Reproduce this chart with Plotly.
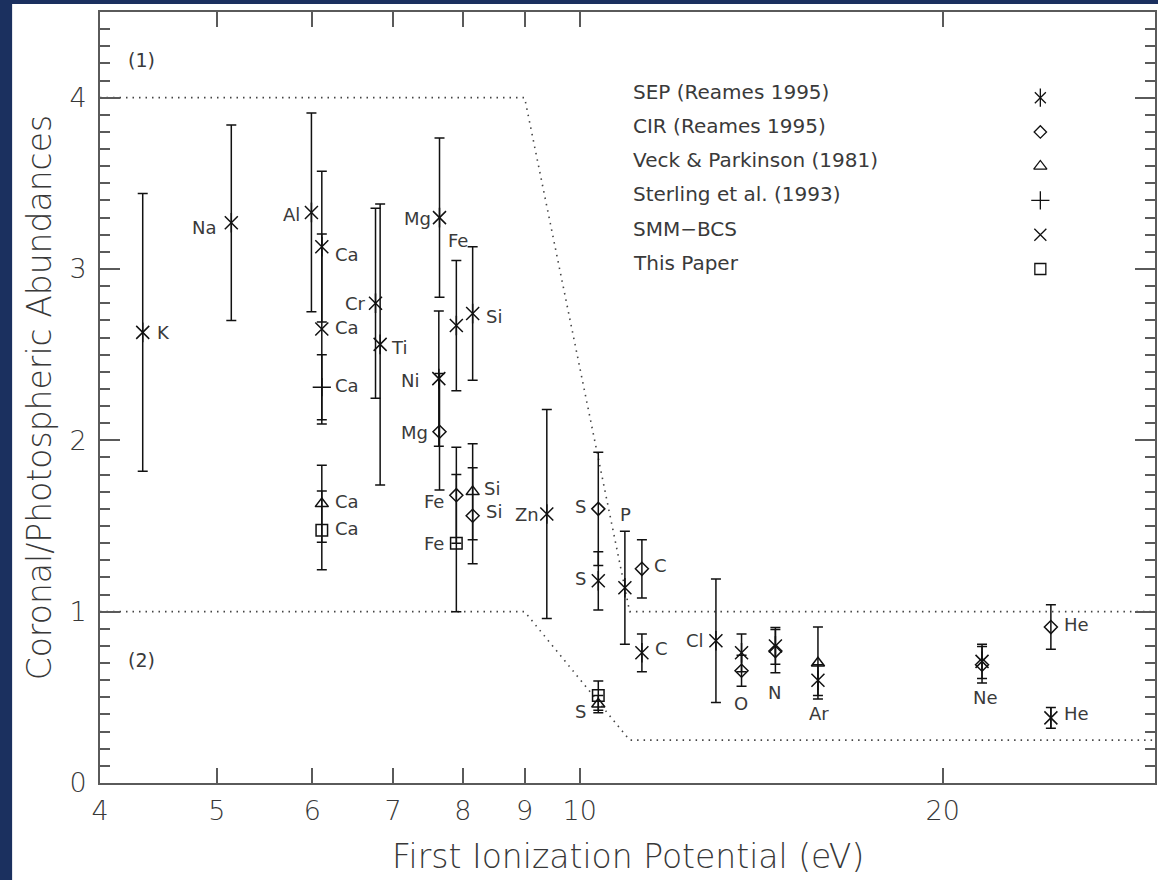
import numpy as np
import plotly.graph_objects as go

# ---------------- data ----------------
# SEP (Reames 1995) - asterisks
sep_el = ["K", "Na", "Al", "Ca", "Cr", "Ti", "Mg", "Ni", "Fe", "Si", "Zn", "S", "P", "C", "Cl", "O", "N", "Ar", "Ne", "He"]
sep_fip = [4.34, 5.14, 5.99, 6.11, 6.77, 6.83, 7.65, 7.64, 7.90, 8.15, 9.39, 10.36, 10.9, 11.26, 12.97, 13.62, 14.53, 15.76, 21.56, 24.59]
sep_val = [2.63, 3.27, 3.33, 3.13, 2.80, 2.56, 3.30, 2.36, 2.67, 2.74, 1.57, 1.18, 1.14, 0.76, 0.83, 0.76, 0.80, 0.60, 0.71, 0.38]
sep_err = [0.81, 0.57, 0.58, 0.44, 0.555, 0.82, 0.465, 0.395, 0.38, 0.39, 0.61, 0.17, 0.33, 0.11, 0.36, 0.11, 0.107, 0.09, 0.10, 0.06]

# CIR (Reames 1995) - diamonds
cir_el = ["Mg", "Fe", "Si", "S", "C", "O", "N", "Ne", "He"]
cir_fip = [7.65, 7.90, 8.15, 10.36, 11.26, 13.62, 14.53, 21.56, 24.59]
cir_val = [2.05, 1.68, 1.56, 1.60, 1.25, 0.655, 0.77, 0.69, 0.91]
cir_err = [0.34, 0.28, 0.28, 0.33, 0.17, 0.09, 0.126, 0.107, 0.13]

# Veck & Parkinson (1981) - triangles
vp_el = ["Ca", "Si", "S", "Ar"]
vp_fip = [6.11, 8.15, 10.36, 15.76]
vp_val = [1.63, 1.70, 0.46, 0.70]
vp_err = [0.225, 0.28, 0.05, 0.21]

# Sterling et al. (1993) - plus
st_el = ["Ca"]
st_fip = [6.11]
st_val = [2.31]
st_err = [0.19]

# SMM-BCS - cross
smm_el = ["Ca"]
smm_fip = [6.11]
smm_val = [2.65]
smm_err = [0.555]

# This Paper - squares
tp_el = ["Ca", "Fe", "S"]
tp_fip = [6.11, 7.90, 10.36]
tp_val = [1.475, 1.40, 0.51]
tp_err = [0.23, 0.40, 0.085]

# FIP boundary curves (1) and (2)
bnd_x = [4, 9, 11, 30]
bnd_upper = [4, 4, 1, 1]
bnd_lower = [1, 1, 0.25, 0.25]

legend_names = ["SEP (Reames 1995)", "CIR (Reames 1995)", "Veck & Parkinson (1981)",
                "Sterling et al. (1993)", "SMM\u2212BCS", "This Paper"]
legend_y = [4.0, 3.8, 3.6, 3.4, 3.2, 3.0]

x_ticks = [4, 5, 6, 7, 8, 9, 10, 20]
y_ticks = [0, 1, 2, 3, 4]

# ---------------- styling ----------------
NAVY = "#1b305f"
INK = "#111111"
TXT = "#3a3a3a"
TXT2 = "#383838"
AX = "#5a5a5a"
FONT = "DejaVu Sans"

fig = go.Figure()

# boundaries
for yb in (bnd_upper, bnd_lower):
    fig.add_trace(go.Scatter(x=bnd_x, y=yb, mode="lines",
                             line=dict(color="#444", width=1.6, dash="1.5px,5px"),
                             showlegend=False, hoverinfo="skip"))


def err(e):
    return dict(type="data", array=e, symmetric=True, color=INK, thickness=1.5, width=5)


def add_pts(x, y, e, symbol, size, lw=1.5):
    fig.add_trace(go.Scatter(x=x, y=y, mode="markers", error_y=err(e),
                             marker=dict(symbol=symbol, size=size, color=INK,
                                         line=dict(color=INK, width=lw)),
                             showlegend=False))


# asterisk = x + vertical bar
add_pts(sep_fip, sep_val, sep_err, "x-thin-open", 13)
fig.add_trace(go.Scatter(x=sep_fip, y=sep_val, mode="markers",
                         marker=dict(symbol="line-ns-open", size=14, color=INK,
                                     line=dict(color=INK, width=1.5)),
                         showlegend=False))
add_pts(cir_fip, cir_val, cir_err, "diamond-open", 10)
add_pts(vp_fip, vp_val, vp_err, "triangle-up-open", 11.5)
add_pts(st_fip, st_val, st_err, "cross-thin-open", 13)
add_pts(smm_fip, smm_val, smm_err, "x-thin-open", 13)
add_pts(tp_fip, tp_val, tp_err, "square-open", 11.5)

# legend symbols (drawn at right of legend texts)
leg_x = 24.1
leg_syms = [["x-thin-open", "line-ns-open"], ["diamond-open"], ["triangle-up-open"],
            ["cross-thin-open"], ["x-thin-open"], ["square-open"]]
leg_sizes = [[11, 13], [9.5], [11.5], [13], [12], [11]]
for yy, syms, sizes in zip(legend_y, leg_syms, leg_sizes):
    for s, sz in zip(syms, sizes):
        fig.add_trace(go.Scatter(x=[leg_x], y=[yy], mode="markers",
                                 marker=dict(symbol=s, size=sz, color=INK,
                                             line=dict(color=INK, width=1.3)),
                                 showlegend=False))

annotations = []


def lab(text, x, y, dx, dy, size=18):
    annotations.append(dict(x=np.log10(x), y=y, xref="x", yref="y", text=text,
                            showarrow=False, xanchor="center", yanchor="middle",
                            xshift=dx, yshift=-dy, font=dict(family=FONT, size=size, color=TXT)))


sep_off = {"K": (21, 0), "Na": (-27, 5), "Al": (-20, 2), "Ca": (25, 8), "Cr": (-20, 0), "Ti": (19, 3),
           "Mg": (-22, 1), "Ni": (-29, 2), "Fe": (2, -85), "Si": (21, 3), "Zn": (-20, 0), "S": (-18, -2),
           "P": (1, -73), "C": (20, -4), "Cl": (-21, 0), "Ar": (1, 33), "He": (26, -4)}
cir_off = {"Mg": (-25, 1), "Fe": (-22, 6), "Si": (21, -4), "S": (-18, -2), "C": (19, -3),
           "O": (-1, 33), "N": (-1, 41), "Ne": (3, 33), "He": (26, -3)}
vp_off = {"Ca": (25, -2), "Si": (19, -3), "S": (-18, 7)}
st_off = {"Ca": (25, -2)}
smm_off = {"Ca": (25, -1)}
tp_off = {"Ca": (25, -2), "Fe": (-22, 0)}

for els, xs, ys, offs in [(sep_el, sep_fip, sep_val, sep_off), (cir_el, cir_fip, cir_val, cir_off),
                          (vp_el, vp_fip, vp_val, vp_off), (st_el, st_fip, st_val, st_off),
                          (smm_el, smm_fip, smm_val, smm_off), (tp_el, tp_fip, tp_val, tp_off)]:
    for el, xv, yv in zip(els, xs, ys):
        if el in offs:
            dx, dy = offs[el]
            lab(el, xv, yv, dx, dy)

# legend texts
for name, yy in zip(legend_names, legend_y):
    annotations.append(dict(x=np.log10(11.03), y=yy, xref="x", yref="y", text=name, showarrow=False,
                            xanchor="left", yanchor="middle", yshift=6,
                            font=dict(family=FONT, size=20, color=TXT)))

# region markers
annotations.append(dict(x=np.log10(4.33), y=4.22, xref="x", yref="y", text="(1)", showarrow=False,
                        font=dict(family=FONT, size=19, color=TXT)))
annotations.append(dict(x=np.log10(4.33), y=0.72, xref="x", yref="y", text="(2)", showarrow=False,
                        font=dict(family=FONT, size=19, color=TXT)))

# axis titles
annotations.append(dict(x=0.5, y=-0.095, xref="paper", yref="paper", text="First Ionization Potential (eV)",
                        showarrow=False, xanchor="center", yanchor="middle",
                        font=dict(family=FONT, size=33, color=TXT2, weight=300)))
annotations.append(dict(x=-0.057, y=0.5, xref="paper", yref="paper", text="Coronal/Photospheric Abundances",
                        showarrow=False, xanchor="center", yanchor="middle", textangle=-90,
                        font=dict(family=FONT, size=33, color=TXT2, weight=300)))

fig.update_layout(
    width=1158, height=880, autosize=False,
    margin=dict(l=100, r=1, t=12, b=97, pad=0),
    paper_bgcolor=NAVY, plot_bgcolor="white",
    showlegend=False,
    annotations=annotations,
    shapes=[dict(type="rect", xref="paper", yref="paper", x0=-0.0833, x1=1.02, y0=-0.2, y1=1.0104,
                 fillcolor="white", line=dict(width=0), layer="below")],
    xaxis=dict(type="log", range=[np.log10(4), np.log10(30)], tickvals=x_ticks,
               ticktext=[str(t) for t in x_ticks], ticks="inside", ticklen=15, tickwidth=1.5,
               tickcolor=AX, showline=True, linecolor=AX, linewidth=2, mirror="ticks",
               showgrid=False, zeroline=False, ticklabelstandoff=3,
               tickfont=dict(family=FONT, size=27, color=TXT2, weight=300)),
    yaxis=dict(range=[0, 4.5], tickvals=y_ticks, ticks="inside", ticklen=20, tickwidth=1.5,
               tickcolor=AX, showline=True, linecolor=AX, linewidth=2, mirror="ticks",
               showgrid=False, zeroline=False, ticklabelstandoff=6,
               minor=dict(ticks="inside", ticklen=10, dtick=0.1, tick0=0, tickcolor=AX,
                          tickwidth=1.5, showgrid=False),
               tickfont=dict(family=FONT, size=27, color=TXT2, weight=300)),
)

fig.write_html("out.html")
